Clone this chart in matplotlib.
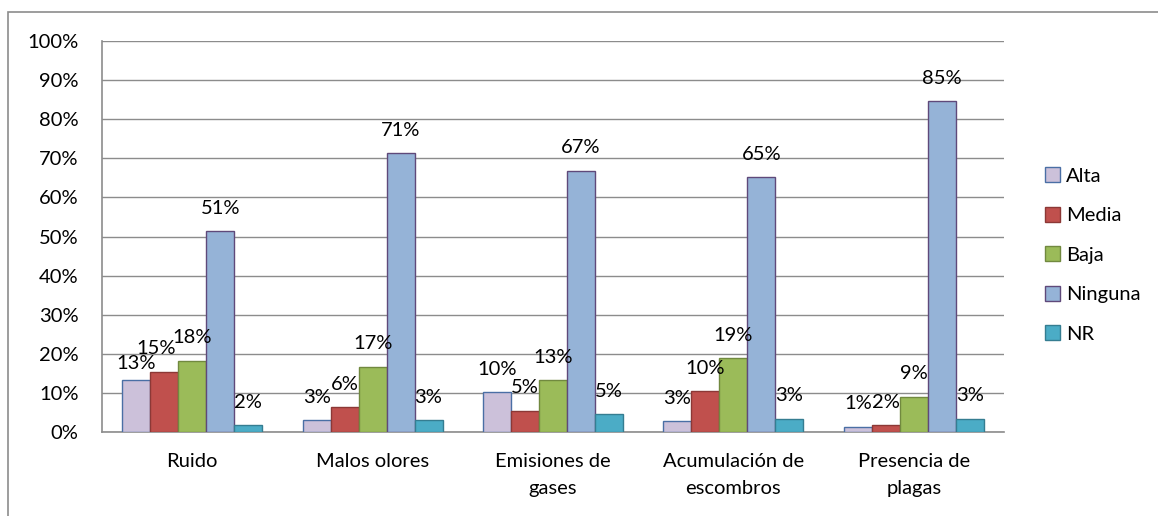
import numpy as np
import matplotlib
matplotlib.use("Agg")
import matplotlib.pyplot as plt
from matplotlib.patches import Rectangle

plt.rcParams['font.family'] = ['Lato', 'DejaVu Sans']

# datos
categorias = ["Ruido", "Malos olores", "Emisiones de\ngases",
              "Acumulación de\nescombros", "Presencia de\nplagas"]
series = ["Alta", "Media", "Baja", "Ninguna", "NR"]
alta = [13.4, 3.0, 10.2, 2.7, 1.4]
media = [15.4, 6.4, 5.4, 10.4, 1.8]
baja = [18.2, 16.7, 13.3, 18.8, 9.0]
ninguna = [51.3, 71.3, 66.8, 65.1, 84.6]
nr = [1.8, 3.0, 4.6, 3.4, 3.4]
etiquetas_y = [f"{v}%" for v in range(0, 101, 10)]

valores = [alta, media, baja, ninguna, nr]
rellenos = ["#CCC1DA", "#C0504D", "#9BBB59", "#95B3D7", "#4BACC6"]
bordes = ["#4A6FA5", "#8C3836", "#71893F", "#5F497A", "#357D91"]

# ajustes de etiquetas que se solapan (serie, categoria) -> (dx, dy) en puntos
ajustes = {(0, 0): (0, -5), (1, 0): (-6, 0)}

fig = plt.figure(figsize=(11.58, 5.16), dpi=100)
ax = fig.add_axes([102/1158, 1 - 432/516, 902/1158, 391/516])

# borde exterior del grafico
fig.patches.append(Rectangle((8/1158, -0.1), 1.2, 0.1 + 1 - 12/516,
                             transform=fig.transFigure, fill=False,
                             edgecolor="#8C8C8C", linewidth=1.2))

x = np.arange(len(categorias))
ancho = 0.155
for i, (nombre, vals) in enumerate(zip(series, valores)):
    pos = x + (i - 2) * ancho
    ax.bar(pos, vals, ancho, color=rellenos[i], edgecolor=bordes[i],
           linewidth=1.0, label=nombre, zorder=3)
    for j, (px, v) in enumerate(zip(pos, vals)):
        dx, dy = ajustes.get((i, j), (0, 0))
        ax.annotate(f"{round(v):.0f}%", (px, v), xytext=(dx, 16.5 + dy),
                    textcoords="offset points", ha="center", va="center",
                    fontsize=14.5, zorder=4)

ax.set_xlim(-0.5, len(categorias) - 0.5)
ax.set_ylim(0, 100)
ax.set_yticks(range(0, 101, 10))
ax.set_yticklabels(etiquetas_y)
ax.set_xticks(x)
ax.set_xticklabels(categorias, linespacing=1.7)
ax.tick_params(axis="both", length=0, labelsize=14.5)
ax.tick_params(axis="y", pad=17)
ax.tick_params(axis="x", pad=15)

ax.yaxis.grid(True, color="#8C8C8C", linewidth=1.0, zorder=0)
ax.set_axisbelow(True)
for s in ["top", "right"]:
    ax.spines[s].set_visible(False)
for s in ["left", "bottom"]:
    ax.spines[s].set_color("#8C8C8C")
    ax.spines[s].set_linewidth(1.2)

fig.legend(loc="center left", bbox_to_anchor=(1045/1158, 1 - 255/516),
           frameon=False, fontsize=14.5, borderpad=0, borderaxespad=0,
           handlelength=0.75, handleheight=0.75, handletextpad=0.3,
           labelspacing=1.1)

fig.savefig("out.png", dpi=100)
